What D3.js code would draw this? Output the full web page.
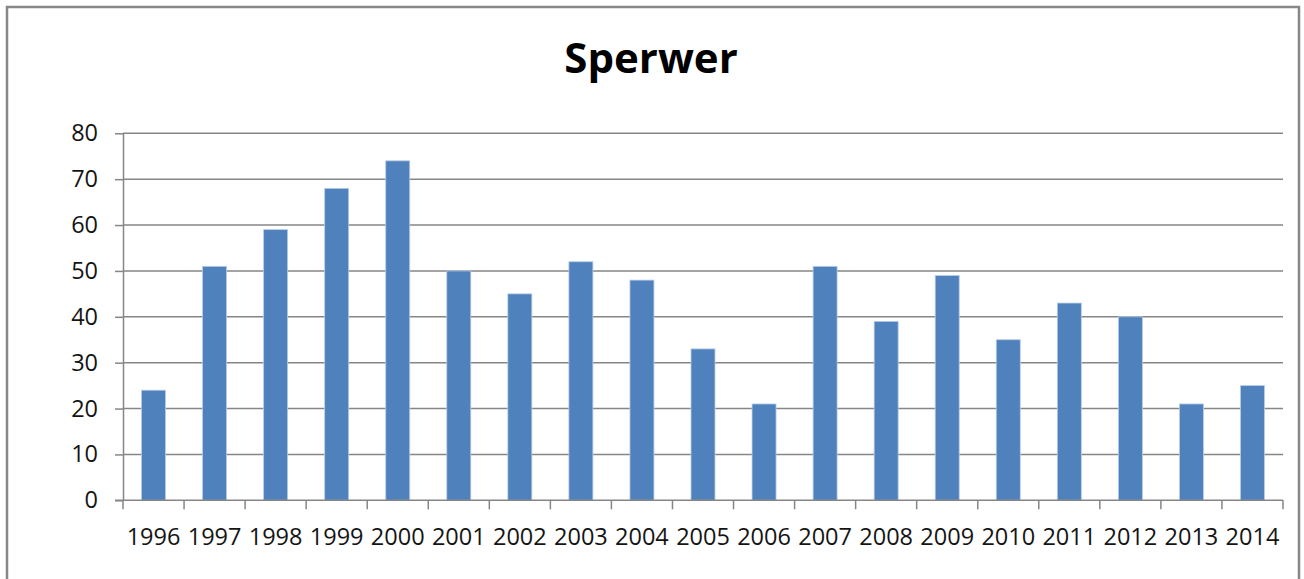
<!DOCTYPE html>
<html>
<head>
<meta charset="utf-8">
<script src="https://cdn.jsdelivr.net/npm/d3@7"></script>
<style>
  body { margin: 0; background: #fff; }
  svg { display: block; }
</style>
</head>
<body>
<div id="chart"></div>
<script>
var years = ["1996","1997","1998","1999","2000","2001","2002","2003","2004","2005","2006","2007","2008","2009","2010","2011","2012","2013","2014"];
var counts = [24,51,59,68,74,50,45,52,48,33,21,51,39,49,35,43,40,21,25];
var yTicks = [0,10,20,30,40,50,60,70,80];
var title = "Sperwer";

var width = 1304, height = 579;
var plotLeft = 123, plotRight = 1283, plotTop = 133.3, plotBottom = 500.3;

var svg = d3.select("#chart").append("svg")
    .attr("width", width)
    .attr("height", height);

// outer frame
svg.append("rect")
    .attr("x", 7).attr("y", 7)
    .attr("width", 1292).attr("height", 600)
    .attr("fill", "none")
    .attr("stroke", "#878787")
    .attr("stroke-width", 2.5);

svg.append("text")
    .attr("x", 651).attr("y", 73)
    .attr("text-anchor", "middle")
    .attr("font-family", "'Open Sans', sans-serif")
    .attr("font-weight", "bold")
    .attr("font-size", 42)
    .attr("fill", "#000")
    .text(title);

var x = d3.scaleBand()
    .domain(years)
    .range([plotLeft, plotRight])
    .paddingInner(0)
    .paddingOuter(0);

var y = d3.scaleLinear()
    .domain([0, 80])
    .range([plotBottom, plotTop]);

// gridlines
svg.append("g")
    .selectAll("line")
    .data(yTicks.slice(1))
    .enter()
    .append("line")
    .attr("x1", plotLeft).attr("x2", plotRight)
    .attr("y1", function(d){ return y(d); })
    .attr("y2", function(d){ return y(d); })
    .attr("stroke", "#868686")
    .attr("stroke-width", 1.5);

// y axis
var yAxis = svg.append("g")
    .attr("transform", "translate(" + plotLeft + ",0)")
    .call(d3.axisLeft(y).tickValues(yTicks).tickSize(8).tickSizeOuter(0).tickPadding(17));
yAxis.select(".domain").attr("stroke", "#868686").attr("stroke-width", 1.5);
yAxis.selectAll(".tick line").attr("stroke", "#868686").attr("stroke-width", 1.5);
yAxis.selectAll(".tick text")
    .attr("font-family", "'Open Sans', sans-serif")
    .attr("font-size", 23.5)
    .attr("fill", "#141414");

// bars
var barW = 24;
svg.append("g")
    .selectAll("rect")
    .data(counts)
    .enter()
    .append("rect")
    .attr("x", function(d,i){ return x(years[i]) + x.bandwidth()/2 - barW/2; })
    .attr("y", function(d){ return y(d); })
    .attr("width", barW)
    .attr("height", function(d){ return y(0) - y(d); })
    .attr("fill", "#4f81bd")
    .attr("stroke", "#b9cde5")
    .attr("stroke-width", 0.8);

// x axis
var xAxis = svg.append("g")
    .attr("transform", "translate(0," + plotBottom + ")");
xAxis.append("line")
    .attr("x1", plotLeft - 8).attr("x2", plotRight)
    .attr("y1", 0).attr("y2", 0)
    .attr("stroke", "#868686")
    .attr("stroke-width", 1.5);
var edges = years.map(function(d){ return x(d); }).concat([plotRight]);
xAxis.selectAll("line.tk")
    .data(edges)
    .enter()
    .append("line")
    .attr("class", "tk")
    .attr("x1", function(d){ return d; })
    .attr("x2", function(d){ return d; })
    .attr("y1", 0).attr("y2", 9)
    .attr("stroke", "#868686")
    .attr("stroke-width", 1.5);
xAxis.selectAll("text")
    .data(years)
    .enter()
    .append("text")
    .attr("x", function(d){ return x(d) + x.bandwidth()/2; })
    .attr("y", 45)
    .attr("text-anchor", "middle")
    .attr("font-family", "'Open Sans', sans-serif")
    .attr("font-size", 23.5)
    .attr("fill", "#141414")
    .text(function(d){ return d; });
</script>
</body>
</html>
